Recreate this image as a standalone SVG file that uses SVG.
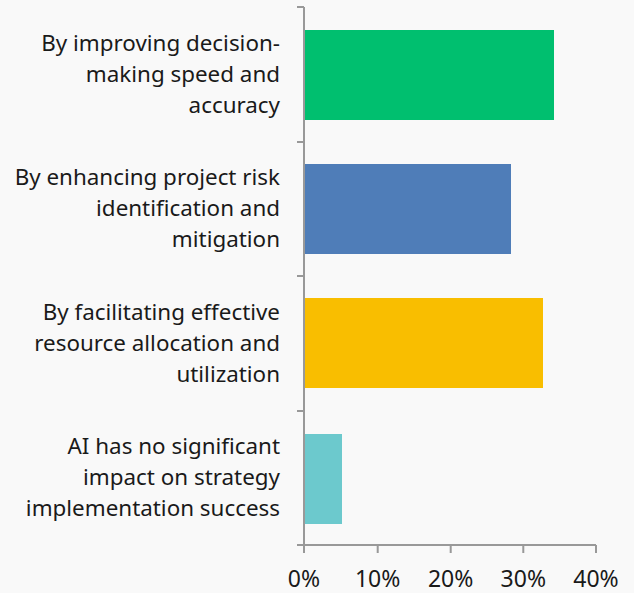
<svg xmlns="http://www.w3.org/2000/svg" width="634" height="593" viewBox="0 0 634 593">
<style>
.lbl{font-family:"Noto Sans","Open Sans",sans-serif;font-size:22.4px;fill:#1a1a1a;text-anchor:end}
.tk{font-family:"Noto Sans","Open Sans",sans-serif;font-size:23px;fill:#1a1a1a;text-anchor:middle}
.ax{stroke:#999;stroke-width:2;fill:none}
</style>
<rect width="634" height="593" fill="#f9f9f9"/>
<g id="bar1"><rect x="305" y="30" width="249" height="90" fill="#00bf6f"/>
<text class="lbl" x="280"><tspan x="280" y="51">By improving decision-</tspan><tspan x="280" y="82">making speed and</tspan><tspan x="280" y="113">accuracy</tspan></text></g>
<g id="bar2"><rect x="305" y="164" width="206" height="90" fill="#4f7db8"/>
<text class="lbl" x="280"><tspan x="280" y="185">By enhancing project risk</tspan><tspan x="280" y="216">identification and</tspan><tspan x="280" y="247">mitigation</tspan></text></g>
<g id="bar3"><rect x="305" y="298" width="238" height="90" fill="#f9be00"/>
<text class="lbl" x="280"><tspan x="280" y="320">By facilitating effective</tspan><tspan x="280" y="351">resource allocation and</tspan><tspan x="280" y="382">utilization</tspan></text></g>
<g id="bar4"><rect x="305" y="434" width="37" height="90" fill="#6cc9cd"/>
<text class="lbl" x="280"><tspan x="280" y="454">AI has no significant</tspan><tspan x="280" y="485">impact on strategy</tspan><tspan x="280" y="516">implementation success</tspan></text></g>
<g id="axes">
<path class="ax" d="M304 7V545H596M297 7H304M297 142H304M297 276H304M297 411H304M297 545H304M304 545V553M377.7 545V553M450.7 545V553M523.3 545V553M596 545V553"/>
<text class="tk" x="304" y="587">0%</text>
<text class="tk" x="377.7" y="587">10%</text>
<text class="tk" x="450.7" y="587">20%</text>
<text class="tk" x="523.3" y="587">30%</text>
<text class="tk" x="596" y="587">40%</text>
</g>
</svg>
